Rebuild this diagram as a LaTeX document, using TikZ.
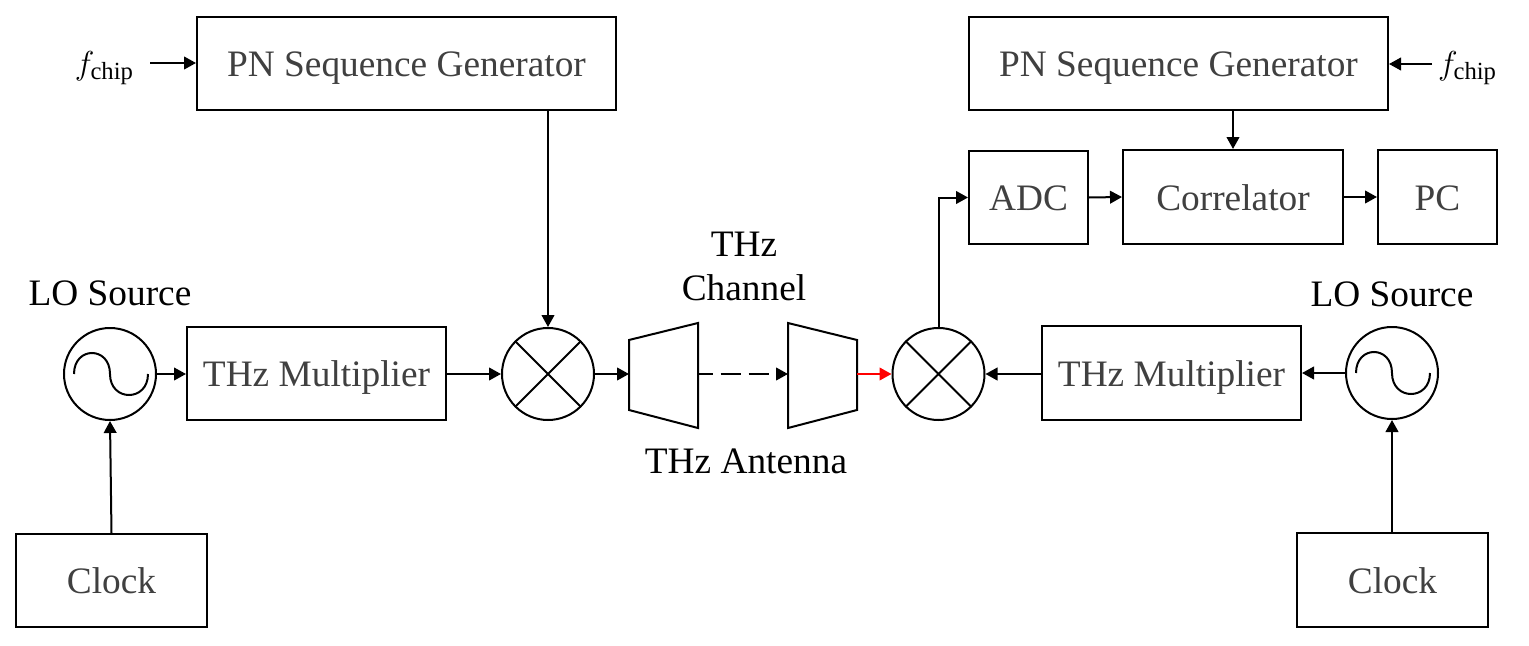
\documentclass[tikz,border=0pt]{standalone}
\usepackage{fontspec}
\setmainfont{Liberation Serif}
\usepackage{tikz}
\usetikzlibrary{arrows.meta}
\definecolor{blocktext}{HTML}{404040}
\definecolor{signalred}{HTML}{FF0000}
\tikzset{
  blockbox/.style={draw,line width=1.5pt,inner sep=0pt,text height=24pt,text depth=4pt,text=blocktext,font=\fontsize{28}{32}\selectfont},
  roundbox/.style={draw,circle,line width=1.5pt,inner sep=0pt,minimum size=69pt},
  caption/.style={inner sep=0pt,font=\fontsize{28}{32}\selectfont},
  wire/.style={line width=1.5pt,-{Triangle[length=9pt,width=9.5pt]}}
}
\newcommand{\fchip}{{\fontsize{38}{40}\selectfont$f$}\kern-3pt\raisebox{-4pt}{\fontsize{18.5}{20}\selectfont chip}}
\begin{document}
\begin{tikzpicture}[x=0.75pt,y=-0.75pt]
\useasboundingbox (0,0) rectangle (1529,646);
% transmitter
\node[blockbox,minimum width=314.25pt,minimum height=69.75pt] (pnL) at (406.5,63.5) {PN Sequence Generator};
\node[blockbox,minimum width=194.25pt,minimum height=69.75pt] (multL) at (316.5,373.5) {THz Multiplier};
\node[blockbox,minimum width=143.25pt,minimum height=69.75pt] (clockL) at (111.5,580.5) {Clock};
\node[roundbox] (srcL) at (110,374) {};
\node[roundbox] (mixL) at (548,374) {};
\node[caption] (chipL) at (104,68) {\fchip};
\coordinate (chipLout) at (150,63);
\node[caption] (loL) at (110,293) {LO Source};
\draw[line width=1.5pt] (629,340) -- (698,323) -- (698,428) -- (629,410) -- cycle;
\coordinate (antLin) at (629,374);
\coordinate (antLout) at (698,374);
% receiver
\node[blockbox,minimum width=314.25pt,minimum height=69.75pt] (pnR) at (1178.5,63.5) {PN Sequence Generator};
\node[blockbox,minimum width=89.25pt,minimum height=69.75pt] (adc) at (1028.5,197.5) {ADC};
\node[blockbox,minimum width=165pt,minimum height=70.5pt] (corr) at (1233,197) {Correlator};
\node[blockbox,minimum width=89.25pt,minimum height=70.5pt] (pc) at (1437.5,197) {PC};
\node[blockbox,minimum width=194.25pt,minimum height=70.5pt] (multR) at (1171.5,373) {THz Multiplier};
\node[blockbox,minimum width=143.25pt,minimum height=70.5pt] (clockR) at (1392.5,580) {Clock};
\node[roundbox] (srcR) at (1392,373) {};
\node[roundbox] (mixR) at (938.5,374) {};
\node[caption] (chipR) at (1467,68) {\fchip};
\coordinate (chipRout) at (1432,64);
\node[caption] (loR) at (1392,294) {LO Source};
\draw[line width=1.5pt] (788,323) -- (857,340) -- (857,410) -- (788,428) -- cycle;
\coordinate (antRin) at (788,374);
\coordinate (antRout) at (857,374);
% channel labels
\node[caption,align=center] (chan) at (744,266) {THz\\[1pt]Channel};
\node[caption] (antname) at (746,461) {THz Antenna};
% mixer crosses
\foreach \m in {mixL,mixR}{
\draw[line width=1.5pt] (\m.45) -- (\m.225) (\m.135) -- (\m.315);
}
% sine in the sources
\foreach \m in {srcL,srcR}{
\begin{scope}[shift={(\m.center)}]
\draw[line width=1.5pt] (-36,0) .. controls (-36,-28) and (0,-28) .. (0,0) .. controls (0,28) and (38,28) .. (38,0);
\end{scope}
}
% connectors
\draw[wire] (chipLout) -- (pnL.west |- chipLout);
\draw[wire] (pnL.south -| mixL.north) -- (mixL.north);
\draw[wire] (srcL.east) -- (multL.west |- srcL.east);
\draw[wire] (multL.east |- mixL.west) -- (mixL.west);
\draw[wire] (mixL.east) -- (antLin);
\draw[wire,dash pattern=on 15.5pt off 5.5pt,dash phase=4pt] (antLout) -- (antRin);
\draw[wire,signalred] (antRout) -- (mixR.west);
\draw[wire] (multR.west |- mixR.east) -- (mixR.east);
\draw[wire] (srcR.west) -- (multR.east |- srcR.west);
\draw[wire] (clockL.north) -- (srcL.south);
\draw[wire] (clockR.north -| srcR.south) -- (srcR.south);
\draw[wire] (mixR.north) |- (adc.west);
\draw[wire] (adc.east) -- (corr.west);
\draw[wire] (corr.east) -- (pc.west);
\draw[wire] (pnR.south -| corr.north) -- (corr.north);
\draw[wire] (chipRout) -- (pnR.east |- chipRout);
\end{tikzpicture}
\end{document}
